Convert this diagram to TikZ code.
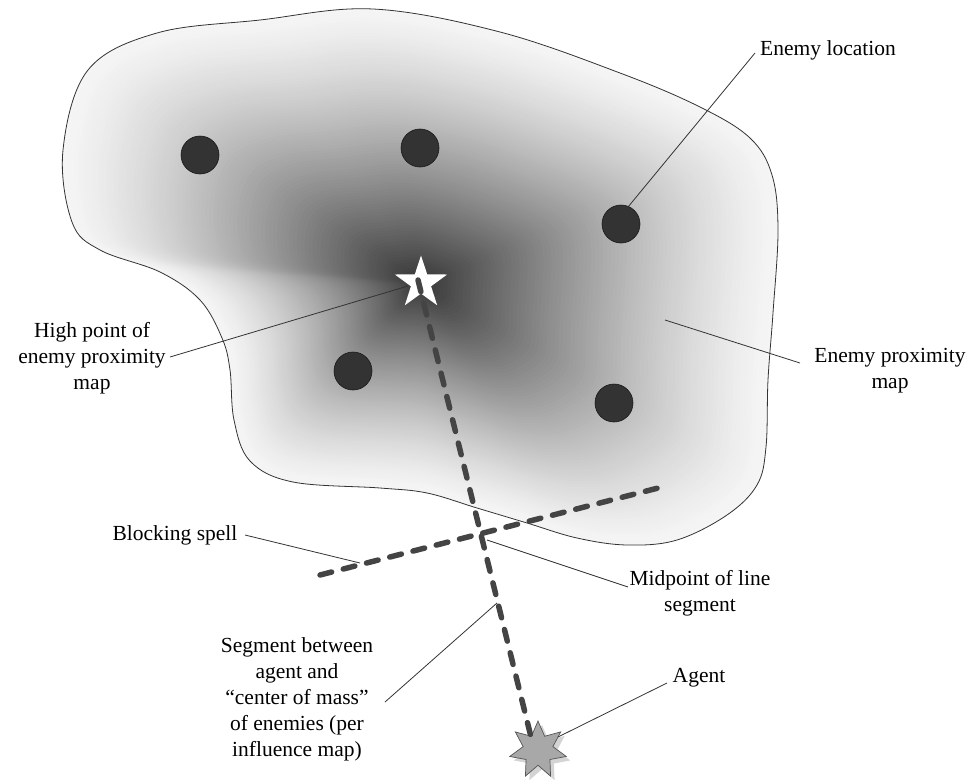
\documentclass[tikz,border=0pt]{standalone}
\usepackage{fontspec}
\setmainfont{Liberation Serif}
\usetikzlibrary{shapes.geometric}
\definecolor{enemyfill}{HTML}{333333}
\definecolor{dashcol}{HTML}{444444}
\definecolor{leadcol}{HTML}{333333}
\definecolor{agentfill}{HTML}{A8A8A8}
\definecolor{agentline}{HTML}{555555}
\definecolor{shadowcol}{HTML}{D4D4D4}
\newcommand\blobshape[1]{#1 plot[smooth cycle, tension=0.6] coordinates {
 (373,9) (500,32) (620,73) (700,107) (750,138) (772,175) (778,230) (773,313)
 (768,380) (766,447) (757,485) (727,515) (677,540) (627,545) (577,538)
 (527,523) (477,508) (427,493) (380,488) (293,482) (250,461) (234,420)
 (230,370) (222,338) (200,300) (160,272) (100,250) (72,222) (63,150)
 (88,70) (157,33) (260,20)};}
\begin{document}
\begin{tikzpicture}[x=1pt,y=-1pt,
  lbl/.style={font=\fontsize{21.5}{26}\selectfont, align=center, inner sep=0pt},
  enemy/.style={circle, fill=enemyfill, draw=black!90, line width=0.6pt, minimum size=38pt, inner sep=0pt},
  leader/.style={draw=leadcol, line width=0.8pt},
  dashline/.style={draw=dashcol, line width=5.5pt, line cap=round, dash pattern=on 12pt off 12pt},
  highstar/.style={star, star points=5, star point ratio=2.6, minimum size=55pt, inner sep=0pt, fill=white},
  agentstar/.style={star, star points=7, star point ratio=1.9, minimum size=58pt, inner sep=0pt}]
\path[use as bounding box] (0,0) rectangle (969,779);
% gradient blob
\foreach \i in {0,...,89}{
  \pgfmathsetmacro\s{1-\i/90}
  \pgfmathsetmacro\p{4+74*(\i/89)^1.3}
  \begin{scope}[shift={(420,283)}, scale=\s, shift={(-420,-283)}]
    \blobshape{\fill[black!\p!white]}
  \end{scope}
}
\blobshape{\draw[black!80, line width=0.8pt]}
% enemies
\node[enemy] (e1) at (200,155) {};
\node[enemy] (e2) at (420,148) {};
\node[enemy] (e3) at (621,224) {};
\node[enemy] (e4) at (353,371) {};
\node[enemy] (e5) at (614,403) {};
% high point star
\node[highstar] (hp) at (421,283) {};
% agent
\node[agentstar, fill=shadowcol] (agshadow) at (542,754) {};
\node[agentstar, fill=agentfill, draw=agentline, line width=0.7pt] (agent) at (538,750) {};
% dashed lines
\coordinate (segstart) at (418,280);
\coordinate (segend) at (533,745);
\draw[dashline] (segstart) -- (segend);
\coordinate (bs1) at (320,575);
\coordinate (bs2) at (662,487);
\draw[dashline] (bs1) -- (bs2);
% labels
\node[lbl] (lloc) at (828,50) {Enemy location};
\node[lbl] (lhigh) at (92,358) {High point of\\enemy proximity\\map};
\node[lbl] (lprox) at (890,371) {Enemy proximity\\map};
\node[lbl] (lblock) at (175,535) {Blocking spell};
\node[lbl] (lmid) at (700,593) {Midpoint of line\\segment};
\node[lbl] (lseg) at (297,699) {Segment between\\agent and\\“center of mass”\\of enemies (per\\influence map)};
\node[lbl] (lagent) at (699,678) {Agent};
% leaders
\coordinate (c1a) at (628,207); \coordinate (c1b) at (755,53);
\coordinate (c2a) at (170,357); \coordinate (c2b) at (408,286);
\coordinate (c3a) at (665,320); \coordinate (c3b) at (800,363);
\coordinate (c4a) at (245,535); \coordinate (c4b) at (360,563);
\coordinate (c5a) at (487,540); \coordinate (c5b) at (628,587);
\coordinate (c6a) at (385,702); \coordinate (c6b) at (497,603);
\coordinate (c7a) at (558,737); \coordinate (c7b) at (667,683);
\draw[leader] (c1a) -- (c1b);
\draw[leader] (c2a) -- (c2b);
\draw[leader] (c3a) -- (c3b);
\draw[leader] (c4a) -- (c4b);
\draw[leader] (c5a) -- (c5b);
\draw[leader] (c6a) -- (c6b);
\draw[leader] (c7a) -- (c7b);
\end{tikzpicture}
\end{document}
